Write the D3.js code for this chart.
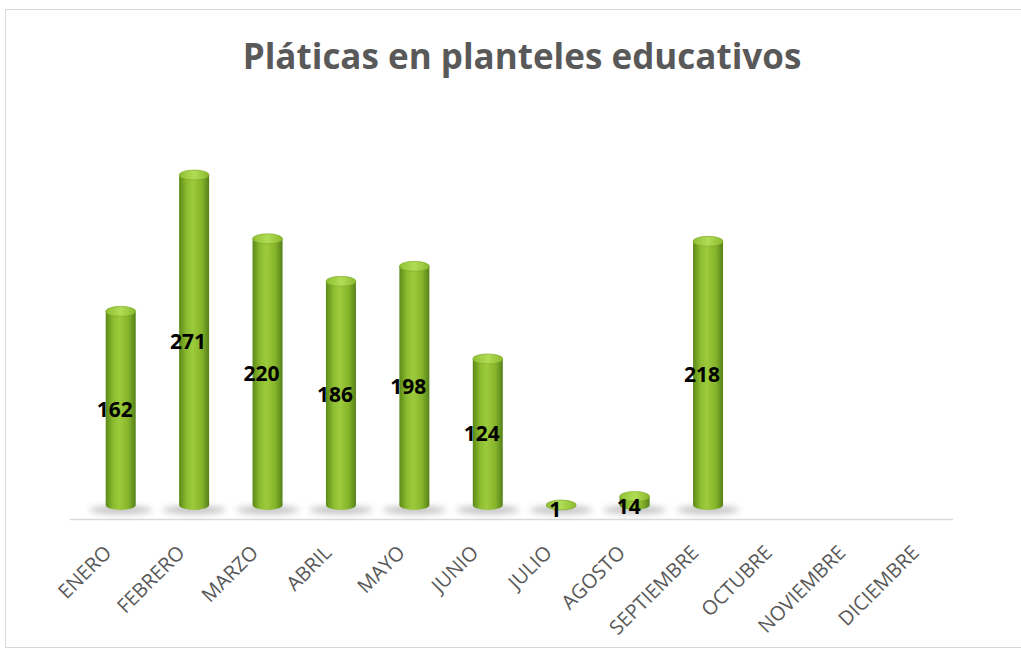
<!DOCTYPE html>
<html>
<head>
<meta charset="utf-8">
<script src="https://cdn.jsdelivr.net/npm/d3@7"></script>
<style>
  body { margin: 0; background: #fff; }
  svg { display: block; }
</style>
</head>
<body>
<div id="chart"></div>
<script>
const months = ["ENERO", "FEBRERO", "MARZO", "ABRIL", "MAYO", "JUNIO", "JULIO", "AGOSTO", "SEPTIEMBRE", "OCTUBRE", "NOVIEMBRE", "DICIEMBRE"];
const values = [162, 271, 220, 186, 198, 124, 1, 14, 218, null, null, null];
const title = "Pláticas en planteles educativos";

const width = 1021, height = 662;
const svg = d3.select("#chart").append("svg").attr("width", width).attr("height", height);

const defs = svg.append("defs");
const grad = defs.append("linearGradient").attr("id", "cyl").attr("x1", 0).attr("x2", 1).attr("y1", 0).attr("y2", 0);
[[0, "#5b8a17"], [0.25, "#8cbc30"], [0.45, "#9ccb3c"], [0.75, "#86b52b"], [1, "#55811a"]]
  .forEach(([o, c]) => grad.append("stop").attr("offset", o).attr("stop-color", c));
const capGrad = defs.append("linearGradient").attr("id", "cap").attr("x1", 0).attr("x2", 1);
[[0, "#8fbf33"], [0.5, "#b1dc55"], [1, "#8aba2e"]]
  .forEach(([o, c]) => capGrad.append("stop").attr("offset", o).attr("stop-color", c));
defs.append("filter").attr("id", "blur").attr("x", "-50%").attr("y", "-100%").attr("width", "200%").attr("height", "300%")
  .append("feGaussianBlur").attr("stdDeviation", 3);

// frame
svg.append("rect").attr("x", 5.5).attr("y", 9.5).attr("width", 1030).attr("height", 638)
  .attr("fill", "#fff").attr("stroke", "#d9d9d9");

svg.append("text").attr("x", 522).attr("y", 69).attr("text-anchor", "middle")
  .style("font-family", "'Open Sans', sans-serif").style("font-weight", "bold").style("font-size", "35px")
  .attr("fill", "#595959").text(title);

const x = d3.scaleBand().domain(months).range([84, 965]);
const base = 505;
const y = d3.scaleLinear().domain([0, 271]).range([514, 175]);
const bw = 30, ry = 5;
const barTop = v => Math.min(y(v), base);

// floor line
svg.append("line").attr("x1", 70).attr("x2", 953).attr("y1", 519.5).attr("y2", 519.5)
  .attr("stroke", "#d9d9d9").attr("stroke-width", 1.5);

const data = months.map((m, i) => ({ m, v: values[i] })).filter(d => d.v != null);

const bars = svg.append("g").selectAll("g").data(data).join("g")
  .attr("transform", d => `translate(${x(d.m) + x.bandwidth() / 2},0)`);

// shadow
bars.append("ellipse").attr("cx", 0).attr("cy", base + 5).attr("rx", bw * 1.05).attr("ry", 4)
  .attr("fill", "#777").attr("opacity", 0.45).attr("filter", "url(#blur)");

bars.append("path").attr("fill", "url(#cyl)")
  .attr("d", d => {
    const t = barTop(d.v), h = bw / 2;
    return `M${-h},${t} L${-h},${base} A${h},${ry} 0 0 0 ${h},${base} L${h},${t} Z`;
  });
bars.append("ellipse").attr("cx", 0).attr("cy", d => barTop(d.v)).attr("rx", bw / 2).attr("ry", ry)
  .attr("fill", "url(#cap)").attr("stroke", "#7aa826").attr("stroke-width", 0.6);

// value labels
bars.append("text")
  .attr("x", -6)
  .attr("y", d => d.v < 30 ? base + 3 + (d.v < 5 ? 3 : 0) : (barTop(d.v) + base) / 2 + 3)
  .attr("text-anchor", "middle").attr("dominant-baseline", "middle")
  .style("font-family", "'Open Sans', sans-serif").style("font-weight", "bold").style("font-size", "21px")
  .attr("fill", "#000").text(d => d.v);

// category labels
const axis = d3.axisBottom(x).tickSize(0).tickPadding(0);
const ax = svg.append("g").attr("transform", "translate(0,549)").call(axis);
ax.select(".domain").remove();
ax.selectAll("text")
  .attr("transform", "translate(-13,0) rotate(-45)")
  .attr("text-anchor", "end").attr("dy", "0.35em").attr("y", 0)
  .style("font-family", "'Open Sans', sans-serif").style("font-size", "20px")
  .attr("fill", "#595959");
</script>
</body>
</html>
